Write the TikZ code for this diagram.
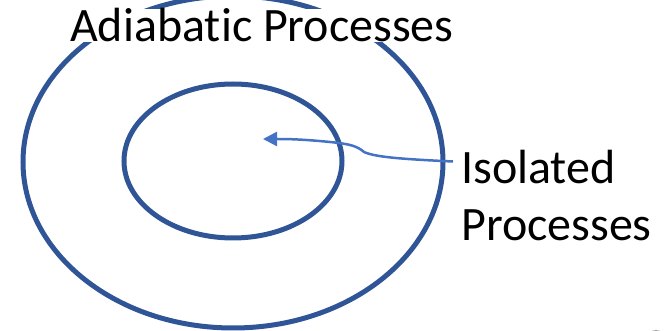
\documentclass[tikz,border=0pt]{standalone}
\usepackage{fontspec}
\setmainfont{Carlito}[Ligatures=NoCommon]
\usepackage{tikz}
\usetikzlibrary{positioning,arrows.meta}
\definecolor{ringblue}{HTML}{2F5597}
\definecolor{arrowblue}{HTML}{4472C4}
\tikzstyle{ring}=[draw=ringblue,line width=5pt]
\tikzstyle{caption}=[inner sep=0pt,font=\fontsize{48}{57}\selectfont,anchor=base west]
\tikzstyle{pointer}=[draw=arrowblue,line width=2.5pt,-{Triangle[length=14pt,width=14pt]}]

\begin{document}
\begin{tikzpicture}[x=1pt,y=-1pt]
  \useasboundingbox (0,0) rectangle (665,331);
  \coordinate (c) at (233,162);
  \draw[ring] (c) ellipse [x radius=210, y radius=166];
  \draw[ring] (233,161) ellipse [x radius=109, y radius=77];
  \node[caption,fill=white] (adiabatic) at (70,42) {Adiabatic Processes};
  \node[caption] (iso) at (461,184) {Isolated};
  \node[caption] (proc) at (461,241) {Processes};
  \coordinate (tip) at (263,139);
  \draw[pointer] ([xshift=-8pt,yshift=6pt]iso.west) .. controls (400,159) and (375,157) .. (364,152)
     .. controls (357,146) and (350,144) .. (330,142)
     .. controls (300,139) and (285,139) .. (tip);
  \fill[gray!70] (656,339) circle (9);
\end{tikzpicture}
\end{document}
